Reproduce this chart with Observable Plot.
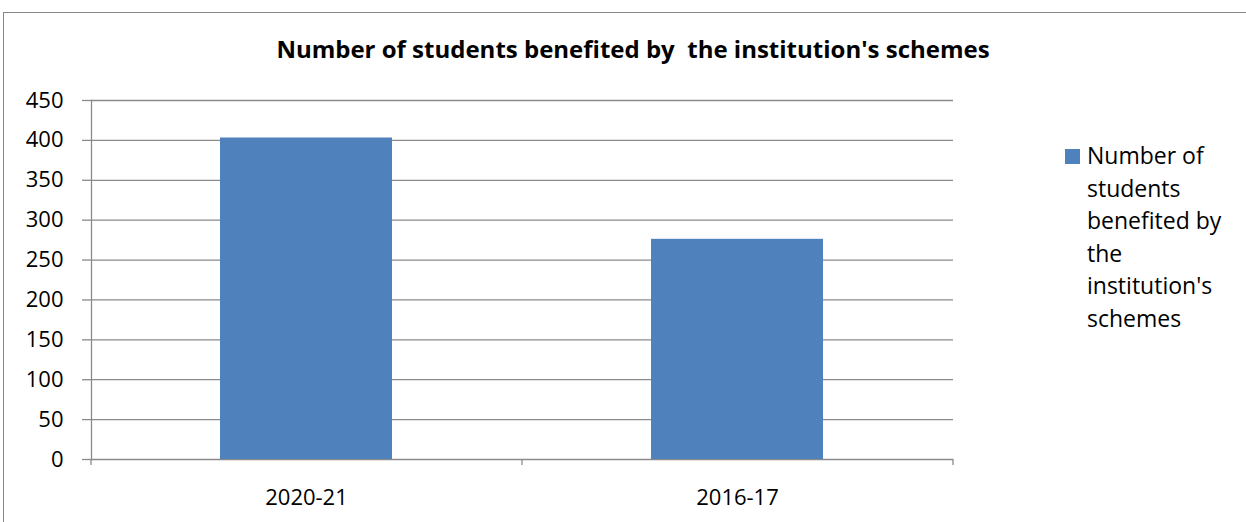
<!DOCTYPE html>
<html>
<head>
<meta charset="utf-8">
<script src="https://cdn.jsdelivr.net/npm/d3@7"></script>
<script src="https://cdn.jsdelivr.net/npm/@observablehq/plot@0.6"></script>
<style>
  html, body { margin: 0; padding: 0; background: #fff; }
  #wrap { position: relative; width: 1246px; height: 522px; overflow: hidden; font-family: "Open Sans", Lato, sans-serif; }
  #border { position: absolute; left: 3px; top: 12px; width: 1300px; height: 600px; border: 1.5px solid #878787; box-sizing: border-box; }
  #title { position: absolute; left: 0; top: 38px; width: 1266px; text-align: center; font-weight: bold; font-size: 24px; line-height: 22px; white-space: pre; color: #000; }
  #chart { position: absolute; left: 0; top: 0; }
  #legend { position: absolute; left: 1065px; top: 139px; font-size: 23px; line-height: 32.5px; color: #000; }
  #legend .sw { position: absolute; left: 0; top: 10px; width: 15px; height: 15px; background: #4f81bd; }
  #legend .tx { position: absolute; left: 22px; top: 0; width: 170px; white-space: nowrap; }
</style>
</head>
<body>
<div id="wrap">
  <div id="border"></div>
  <div id="chart"></div>
  <div id="title"></div>
  <div id="legend"><div class="sw"></div><div class="tx"></div></div>
</div>
<script>
const title = "Number of students benefited by  the institution's schemes";
const legendLines = ["Number of", "students", "benefited by", "the", "institution's", "schemes"];
const categories = ["2020-21", "2016-17"];
const values = [403, 276];
const yTicks = [0, 50, 100, 150, 200, 250, 300, 350, 400, 450];

document.getElementById("title").textContent = title;
document.querySelector("#legend .tx").innerHTML = legendLines.join("<br>");

const data = categories.map((c, i) => ({category: c, value: values[i]}));

const W = 1246, H = 522;
const mL = 91, mR = 293, mT = 100, mB = 63;
const step = (W - mL - mR) / categories.length;
const grey = "#8a8a8a";

const chart = Plot.plot({
  width: W,
  height: H,
  marginLeft: mL,
  marginRight: mR,
  marginTop: mT,
  marginBottom: mB,
  style: {fontFamily: "'Open Sans', Lato, sans-serif", fontSize: "22px", color: "#000", background: "transparent", overflow: "visible"},
  x: {domain: categories, paddingInner: 0.6, paddingOuter: 0.3, label: null},
  y: {domain: [0, 450], label: null},
  marks: [
    Plot.ruleY(yTicks, {stroke: grey, strokeWidth: 1.3}),
    Plot.barY(data, {x: "category", y: "value", fill: "#4f81bd"}),
    Plot.frame({anchor: "left", stroke: grey, strokeWidth: 1.3}),
    Plot.ruleX(categories, {x: d => d, dx: -step / 2, y1: 0, y2: -7.5, stroke: grey, strokeWidth: 1.3, clip: false}),
    Plot.ruleX(categories.slice(-1), {x: d => d, dx: step / 2, y1: 0, y2: -7.5, stroke: grey, strokeWidth: 1.3, clip: false}),
    Plot.axisY({ticks: yTicks, tickSize: 9, tickPadding: 19, stroke: grey, strokeWidth: 1.3, fill: "#000", fontSize: 22, tickFormat: d => String(d), label: null}),
    Plot.axisX({tickSize: 0, tickPadding: 30, fill: "#000", fontSize: 22, label: null})
  ]
});
document.getElementById("chart").appendChild(chart);
</script>
</body>
</html>
